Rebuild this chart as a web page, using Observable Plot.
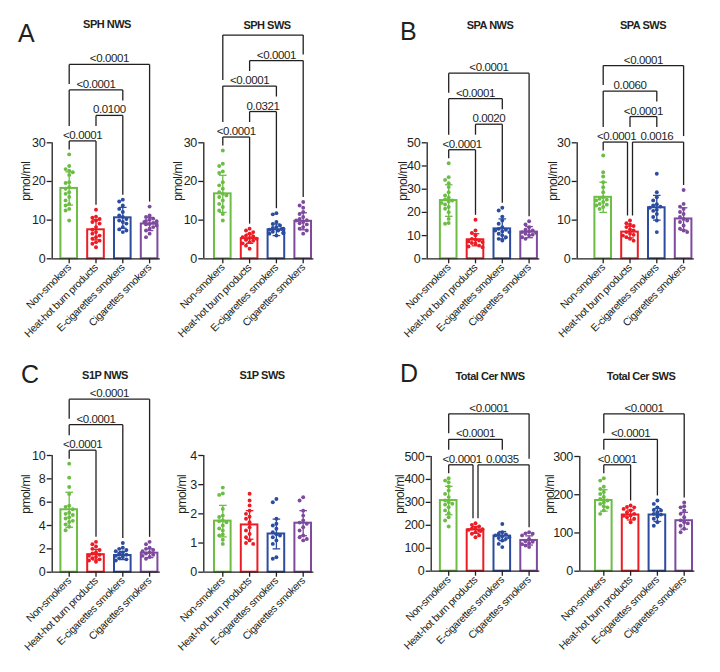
<!DOCTYPE html>
<html><head><meta charset="utf-8">
<script src="https://cdn.jsdelivr.net/npm/d3@7"></script>
<script src="https://cdn.jsdelivr.net/npm/@observablehq/plot@0.6"></script>
<style>
body{margin:0;background:#fff;}
#fig{position:relative;width:720px;height:672px;overflow:hidden;background:#fff;
 font-family:'Liberation Sans',Arial,sans-serif;color:#231f20;letter-spacing:-0.4px;}
#fig svg{position:absolute;left:0;top:0;}
.ttl{position:absolute;font-weight:bold;font-size:11px;line-height:1;transform:translateX(-50%);white-space:nowrap;z-index:5;letter-spacing:-0.5px}
.let{position:absolute;font-size:25px;line-height:1;z-index:5;letter-spacing:0}
</style></head><body><div id="fig"></div>
<script>
// ---------- data ----------
const groups = ["Non-smokers", "Heat-hot burn products", "E-cigarettes smokers", "Cigarettes smokers"];
const colors = ["#6cbd45", "#ec1c24", "#2b4c9f", "#7e4a9d"];
const titles = ["SPH NWS", "SPH SWS", "SPA NWS", "SPA SWS", "S1P NWS", "S1P SWS", "Total Cer NWS", "Total Cer SWS"];
const letters = ["A", "B", "C", "D"];

const sphNwsTicks = [0, 10, 20, 30];
const sphNwsMean = [18.2, 7.5, 10.6, 9.0];
const sphNwsSd = [4.3, 2.6, 2.7, 1.7];
const sphNwsPoints = [
  [27.0, 24.0, 23.2, 22.8, 22.4, 21.7, 19.8, 19.6, 18.5, 18.1, 17.2, 16.8, 16.0, 15.1, 14.2, 13.8, 12.9, 12.5, 9.9],
  [12.7, 10.9, 10.6, 10.3, 9.9, 9.5, 9.1, 8.2, 7.5, 6.9, 6.5, 6.0, 5.6, 5.2, 4.7, 4.3, 3.9, 3.0],
  [15.3, 14.8, 13.8, 12.9, 12.1, 11.2, 10.8, 10.3, 9.9, 9.5, 9.1, 8.2, 7.3, 6.9, 7.6],
  [13.5, 11.2, 10.8, 10.4, 10.1, 9.8, 9.5, 9.3, 9.0, 8.6, 8.2, 7.8, 7.3, 6.5, 5.6, 8.9, 9.7]
];
const sphNwsComparisons = [[0, 1, "<0.0001", 0], [1, 2, "0.0100", 1], [0, 2, "<0.0001", 2], [0, 3, "<0.0001", 3]];

const sphSwsTicks = [0, 10, 20, 30];
const sphSwsMean = [16.8, 5.2, 7.5, 9.7];
const sphSwsSd = [4.8, 1.2, 1.5, 2.2];
const sphSwsPoints = [
  [28.0, 24.6, 24.0, 22.6, 22.2, 19.8, 19.0, 18.1, 17.2, 16.8, 16.4, 16.0, 15.1, 14.2, 13.4, 12.5, 11.6, 9.9],
  [7.8, 7.3, 6.9, 6.5, 6.0, 5.6, 5.4, 5.2, 5.0, 4.7, 4.3, 4.0, 3.4, 2.6, 5.8, 4.9],
  [11.8, 11.5, 9.5, 9.0, 8.6, 8.2, 7.8, 7.5, 7.3, 7.0, 6.6, 6.5, 6.0, 7.7, 8.0, 6.8],
  [14.7, 13.8, 13.2, 12.1, 11.6, 10.8, 10.3, 9.9, 9.5, 9.2, 8.9, 8.2, 7.8, 7.3, 6.5, 10.0]
];
const sphSwsComparisons = [[0, 1, "<0.0001", 0], [1, 2, "0.0321", 1], [0, 2, "<0.0001", 2], [1, 3, "<0.0001", 3], [0, 3, "", 4]];

const spaNwsTicks = [0, 10, 20, 30, 40, 50];
const spaNwsMean = [25.1, 8.2, 12.9, 11.5];
const spaNwsSd = [6.8, 2.6, 4.3, 2.4];
const spaNwsPoints = [
  [41.2, 35.2, 34.0, 32.6, 30.9, 28.7, 27.3, 26.3, 25.6, 25.1, 24.7, 24.1, 23.4, 22.3, 21.6, 20.1, 17.2, 15.4, 15.1],
  [16.8, 12.2, 11.1, 10.1, 8.6, 7.9, 7.2, 6.8, 6.5, 5.7, 5.3, 5.0, 7.5, 8.2],
  [22.0, 20.8, 18.2, 16.5, 15.1, 13.6, 12.9, 12.2, 11.5, 10.8, 10.1, 9.3, 8.6, 7.9, 12.5, 11.8],
  [16.2, 14.8, 13.6, 12.5, 11.9, 11.2, 10.8, 10.1, 9.3, 8.6, 11.5, 12.2, 10.4]
];
const spaNwsComparisons = [[0, 1, "<0.0001", 0], [1, 2, "0.0020", 1], [0, 2, "<0.0001", 2], [0, 3, "<0.0001", 3]];

const spaSwsTicks = [0, 10, 20, 30];
const spaSwsMean = [15.9, 6.9, 13.2, 10.3];
const spaSwsSd = [3.9, 1.5, 3.2, 2.9];
const spaSwsPoints = [
  [26.7, 22.4, 21.3, 19.8, 18.5, 17.2, 15.9, 15.5, 15.1, 14.7, 14.2, 13.8, 13.4, 12.9, 14.0, 15.3],
  [9.9, 9.2, 8.9, 8.2, 7.3, 6.9, 6.5, 6.0, 5.6, 5.2, 4.7, 7.6, 6.2, 8.5],
  [22.0, 17.2, 15.9, 15.1, 14.1, 13.5, 13.2, 12.7, 11.6, 10.8, 9.9, 6.9, 13.8, 12.4],
  [17.8, 14.2, 13.5, 12.9, 12.1, 11.6, 10.8, 9.9, 9.5, 8.6, 7.8, 6.9, 10.3, 7.3]
];
const spaSwsComparisons = [[0, 1, "<0.0001", 0], [1, 3, "0.0016", 0], [1, 2, "<0.0001", 1], [0, 2, "0.0060", 2], [0, 3, "<0.0001", 3]];

const s1pNwsTicks = [0, 2, 4, 6, 8, 10];
const s1pNwsMean = [5.35, 1.5, 1.43, 1.63];
const s1pNwsSd = [1.5, 0.45, 0.35, 0.38];
const s1pNwsPoints = [
  [9.3, 8.1, 7.3, 6.7, 5.7, 5.4, 5.1, 5.0, 4.9, 4.7, 4.4, 4.3, 4.1, 3.9, 3.6, 5.6, 4.6],
  [2.6, 2.4, 2.2, 2.0, 1.9, 1.6, 1.4, 1.3, 1.1, 1.0, 0.9, 1.7, 1.2, 1.5],
  [2.5, 2.1, 2.0, 1.9, 1.7, 1.6, 1.4, 1.3, 1.1, 1.0, 1.5, 1.2, 1.8],
  [2.6, 2.4, 2.1, 2.0, 1.9, 1.7, 1.6, 1.4, 1.3, 1.15, 1.8, 1.5]
];
const s1pNwsComparisons = [[0, 1, "<0.0001", 0], [0, 2, "<0.0001", 1], [0, 3, "<0.0001", 2]];

const s1pSwsTicks = [0, 1, 2, 3, 4];
const s1pSwsMean = [1.75, 1.62, 1.31, 1.68];
const s1pSwsSd = [0.54, 0.49, 0.51, 0.43];
const s1pSwsPoints = [
  [2.9, 2.7, 2.65, 2.17, 1.94, 1.89, 1.77, 1.71, 1.6, 1.43, 1.29, 1.26, 1.11, 0.97, 1.75, 1.5],
  [2.69, 2.46, 2.29, 2.11, 2.0, 1.83, 1.71, 1.54, 1.43, 1.31, 1.2, 1.09, 0.97, 1.9, 1.0],
  [2.51, 2.4, 1.83, 1.66, 1.49, 1.37, 1.26, 1.2, 1.09, 0.97, 0.51, 0.46, 1.6, 1.3],
  [2.57, 2.46, 2.11, 1.94, 1.77, 1.66, 1.54, 1.43, 1.26, 1.14, 1.09, 1.7, 1.2]
];
const s1pSwsComparisons = [];

const cerNwsTicks = [0, 100, 200, 300, 400, 500];
const cerNwsMean = [308, 180, 153, 134];
const cerNwsSd = [62, 15, 20, 20];
const cerNwsPoints = [
  [405, 395, 388, 369, 352, 337, 323, 308, 301, 294, 279, 265, 253, 235, 221, 195, 290],
  [209, 202, 195, 189, 183, 177, 170, 163, 156, 148, 180, 175, 186],
  [206, 170, 163, 156, 148, 141, 134, 119, 105, 160, 152, 145],
  [170, 163, 156, 141, 131, 122, 112, 105, 165, 128, 118]
];
const cerNwsComparisons = [[0, 1, "<0.0001", 0], [1, 3, "0.0035", 0], [0, 2, "<0.0001", 1], [0, 3, "<0.0001", 2]];

const cerSwsTicks = [0, 100, 200, 300];
const cerSwsMean = [185, 147, 147, 132];
const cerSwsSd = [28, 13, 17, 22];
const cerSwsPoints = [
  [243, 237, 221, 215, 207, 202, 194, 189, 180, 176, 167, 159, 150, 185, 170],
  [172, 167, 163, 159, 154, 150, 146, 141, 137, 128, 168, 145],
  [185, 176, 167, 159, 154, 150, 143, 137, 128, 119, 160, 148],
  [180, 167, 159, 150, 141, 133, 128, 119, 111, 102, 170, 125]
];
const cerSwsComparisons = [[0, 1, "<0.0001", 0], [0, 2, "<0.0001", 1], [0, 3, "<0.0001", 2]];

const yLabel = "pmol/ml";

// ---------- layout ----------
const FONT = "'Liberation Sans',Arial,sans-serif";
const INK = "#231f20";
const STEP = 26.8;
const panels = [
  {title: titles[0], ticks: sphNwsTicks, means: sphNwsMean, sds: sphNwsSd, points: sphNwsPoints, comps: sphNwsComparisons,
   L: {ax: 51.7, off: 17, y0: 258.3, yT: 142.3, ldx: -26, tx: 107, ty: 19}},
  {title: titles[1], ticks: sphSwsTicks, means: sphSwsMean, sds: sphSwsSd, points: sphSwsPoints, comps: sphSwsComparisons,
   L: {ax: 203.3, off: 19, y0: 258.3, yT: 142.3, ldx: -26, tx: 267, ty: 19.5}},
  {title: titles[2], ticks: spaNwsTicks, means: spaNwsMean, sds: spaNwsSd, points: spaNwsPoints, comps: spaNwsComparisons,
   L: {ax: 426.7, off: 21.5, y0: 258.3, yT: 142.3, ldx: -24, tx: 490, ty: 19.5}},
  {title: titles[3], ticks: spaSwsTicks, means: spaSwsMean, sds: spaSwsSd, points: spaSwsPoints, comps: spaSwsComparisons,
   L: {ax: 576.7, off: 26, y0: 258.3, yT: 142.3, ldx: -24, tx: 643, ty: 19.5}},
  {title: titles[4], ticks: s1pNwsTicks, means: s1pNwsMean, sds: s1pNwsSd, points: s1pNwsPoints, comps: s1pNwsComparisons,
   L: {ax: 51.7, off: 17, y0: 571.7, yT: 455, ldx: -26, tx: 105, ty: 370}},
  {title: titles[5], ticks: s1pSwsTicks, means: s1pSwsMean, sds: s1pSwsSd, points: s1pSwsPoints, comps: s1pSwsComparisons,
   L: {ax: 203.3, off: 19, y0: 571.7, yT: 455, ldx: -22, tx: 262, ty: 370}},
  {title: titles[6], ticks: cerNwsTicks, means: cerNwsMean, sds: cerNwsSd, points: cerNwsPoints, comps: cerNwsComparisons,
   L: {ax: 430.7, off: 17.5, y0: 570.7, yT: 456, ldx: -31, tx: 490, ty: 371}},
  {title: titles[7], ticks: cerSwsTicks, means: cerSwsMean, sds: cerSwsSd, points: cerSwsPoints, comps: cerSwsComparisons,
   L: {ax: 579.3, off: 24, y0: 570.7, yT: 456, ldx: -30, tx: 641, ty: 371}}
];
const letterPos = [{x: 18, y: 21}, {x: 400, y: 19}, {x: 21, y: 362}, {x: 400, y: 361}];

const fig = document.getElementById("fig");

function drawPanel(p) {
  const {means, sds, points, comps, ticks, L} = p;
  const ymax = ticks[ticks.length - 1];
  const k = (L.y0 - L.yT) / ymax;
  const xMin = -L.off / STEP, xMax = 3.4;
  const right = L.ax + (xMax - xMin) * STEP;
  const toPx = v => L.y0 - v * k;
  const toVal = px => (L.y0 - px) / k;
  const cx = g => L.ax + L.off + g * STEP;
  const toX = px => (px - L.ax - L.off) / STEP;

  // dots: simple beeswarm inside bar
  const dots = [];
  points.forEach((arr, g) => {
    const placed = [];
    [...arr].sort((a, b) => b - a).forEach(v => {
      const py = v * k;
      const cands = [0, -3.6, 3.6, -7, 7, -1.8, 1.8, -5.3, 5.3];
      let pick = null;
      for (const c of cands) {
        if (placed.every(q => Math.hypot(q.x - c, q.y - py) >= 3.6)) { pick = c; break; }
      }
      if (pick === null) pick = cands[placed.length % cands.length];
      placed.push({x: pick, y: py});
      dots.push({g, v, x: g + pick / STEP});
    });
  });

  const bars = means.map((m, i) => ({g: i, m, sd: sds[i], x1: i - 0.31, x2: i + 0.31}));
  const err = [];
  const cap = 3.8 / STEP;
  bars.forEach(b => {
    err.push({g: b.g, x1: b.g, x2: b.g, y1: b.m - b.sd, y2: b.m + b.sd});
    err.push({g: b.g, x1: b.g - cap, x2: b.g + cap, y1: b.m + b.sd, y2: b.m + b.sd});
    err.push({g: b.g, x1: b.g - cap, x2: b.g + cap, y1: b.m - b.sd, y2: b.m - b.sd});
  });

  // significance brackets
  const segs = [], labels = [];
  if (comps.length) {
    const allMax = d3.max(points.flat());
    const base = toPx(allMax) - 13.5;
    const br = comps.map(([a, b, label, level]) => ({a, b, label, level, y: base - 25.5 * level}));
    br.forEach(B => {
      B.sa = 0; B.sb = 0;
      br.forEach(O => {
        if (O !== B && O.level === B.level) {
          if (O.a === B.b) B.sb = -2.5;
          if (O.b === B.a) B.sa = 2.5;
        }
      });
      B.mid = (cx(B.a) + cx(B.b)) / 2;
      B.half = B.label.length * 2.6;
    });
    const legBottom = (B, g, xpx) => {
      let best = Infinity;
      br.forEach(O => {
        if (O.level >= B.level) return;
        if (O.a <= g && g <= O.b) best = Math.min(best, O.y - 6);
        if (O.label && Math.abs(xpx - O.mid) <= O.half + 1) best = Math.min(best, O.y - 15);
      });
      if (best === Infinity) best = toPx(d3.max(points[g])) - 5;
      return best;
    };
    br.forEach(B => {
      const xa = cx(B.a) + B.sa, xb = cx(B.b) + B.sb;
      const push = (x1, y1, x2, y2) => segs.push({x1: toX(x1), y1: toVal(y1), x2: toX(x2), y2: toVal(y2)});
      push(xa, B.y, xb, B.y);
      push(xa, B.y, xa, legBottom(B, B.a, xa));
      push(xb, B.y, xb, legBottom(B, B.b, xb));
      if (B.label) labels.push({x: toX(B.mid), y: toVal(B.y), text: B.label});
    });
  }

  const svg = Plot.plot({
    width: 720, height: 672,
    marginLeft: L.ax, marginRight: 720 - right, marginTop: L.yT, marginBottom: 672 - L.y0,
    x: {domain: [xMin, xMax]},
    y: {domain: [0, ymax]},
    color: {type: "identity"},
    style: {background: "transparent", overflow: "visible", fontFamily: FONT, color: INK, letterSpacing: "-0.4px"},
    marks: [
      Plot.rectY(bars, {x1: "x1", x2: "x2", y1: 0, y2: "m", fill: "white", stroke: d => colors[d.g], strokeWidth: 2}),
      Plot.dot(dots, {x: "x", y: "v", r: 1.95, fill: d => colors[d.g], stroke: "none"}),
      Plot.link(err, {x1: "x1", y1: "y1", x2: "x2", y2: "y2", stroke: d => colors[d.g], strokeWidth: 1.3}),
      Plot.ruleX([xMin], {y1: 0, y2: ymax, stroke: INK, strokeWidth: 1.3}),
      Plot.ruleY([0], {x1: xMin, x2: xMax, stroke: INK, strokeWidth: 1.3}),
      Plot.axisY({ticks, tickFormat: d => String(d), tickSize: 5, tickPadding: 2, label: null, fontSize: 12.5,
                  strokeWidth: 1.3, stroke: INK}),
      Plot.axisX({ticks: [0, 1, 2, 3], tickFormat: i => groups[i], tickRotate: -45, tickSize: 5, tickPadding: 2,
                  label: null, fontSize: 10.5, strokeWidth: 1.3, stroke: INK}),
      Plot.text([yLabel], {frameAnchor: "left", rotate: -90, dx: L.ldx, fontSize: 12, fill: INK}),
      Plot.link(segs, {x1: "x1", y1: "y1", x2: "x2", y2: "y2", stroke: INK, strokeWidth: 1.3}),
      Plot.text(labels, {x: "x", y: "y", text: "text", dy: -2, lineAnchor: "bottom", fontSize: 11.5, fill: INK})
    ]
  });
  fig.appendChild(svg);

  const t = document.createElement("div");
  t.className = "ttl";
  t.textContent = p.title;
  t.style.left = L.tx + "px";
  t.style.top = L.ty + "px";
  fig.appendChild(t);
}

panels.forEach(drawPanel);
letters.forEach((s, i) => {
  const d = document.createElement("div");
  d.className = "let";
  d.textContent = s;
  d.style.left = letterPos[i].x + "px";
  d.style.top = letterPos[i].y + "px";
  fig.appendChild(d);
});
</script></body></html>
